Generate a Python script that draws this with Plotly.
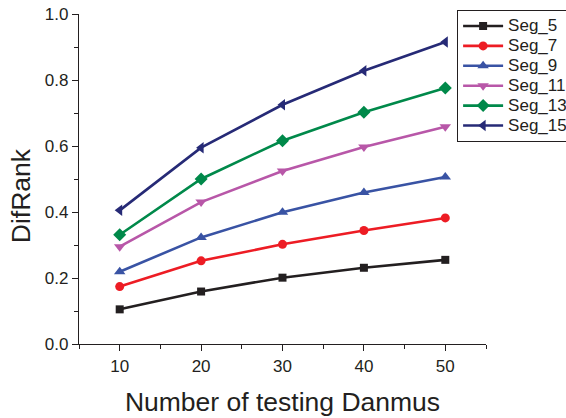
import plotly.graph_objects as go

x_vals = [10, 20, 30, 40, 50]
series_names = ["Seg_5", "Seg_7", "Seg_9", "Seg_11", "Seg_13", "Seg_15"]
seg_5 = [0.105, 0.159, 0.201, 0.231, 0.255]
seg_7 = [0.174, 0.252, 0.302, 0.344, 0.382]
seg_9 = [0.219, 0.323, 0.399, 0.459, 0.506]
seg_11 = [0.295, 0.430, 0.524, 0.597, 0.658]
seg_13 = [0.331, 0.500, 0.616, 0.702, 0.776]
seg_15 = [0.405, 0.595, 0.725, 0.828, 0.915]
series_values = [seg_5, seg_7, seg_9, seg_11, seg_13, seg_15]

colors = ["#231f20", "#ed1c24", "#3953a4", "#b857a8", "#00894a", "#262a76"]
symbols = ["square", "circle", "triangle-up", "triangle-down", "diamond", "triangle-left"]
sizes = [8, 9, 10, 10, 10, 10]

fig = go.Figure()
for name, vals, c, s, sz in zip(series_names, series_values, colors, symbols, sizes):
    fig.add_trace(go.Scatter(
        x=x_vals, y=vals,
        name='<span style="font-size:17px">' + name + '</span>',
        mode="lines+markers",
        line=dict(color=c, width=2.6),
        marker=dict(symbol=s, size=sz, color=c, line=dict(width=0)),
    ))

font_family = "Liberation Sans, Arial, sans-serif"
text_color = "#231f20"

fig.update_layout(
    width=566, height=418,
    margin=dict(l=79, r=80, t=14, b=74, autoexpand=False),
    plot_bgcolor="white", paper_bgcolor="white",
    font=dict(family=font_family, color=text_color, size=17),
    legend=dict(
        x=0.929, y=1.012, xanchor="left", yanchor="top",
        bordercolor="#231f20", borderwidth=1,
        font=dict(size=13, family=font_family, color=text_color),
        bgcolor="white", tracegroupgap=0, itemwidth=40,
    ),
    xaxis=dict(
        range=[5, 55], tickvals=[10, 20, 30, 40, 50],
        showgrid=False, zeroline=False, showline=True,
        linecolor="#231f20", linewidth=1.2,
        ticks="outside", ticklen=6, tickwidth=1.2, tickcolor="#231f20",
        minor=dict(tickvals=[5, 15, 25, 35, 45, 55], ticks="outside", ticklen=4, tickwidth=1, tickcolor="#231f20"),
        tickfont=dict(size=17),
        title=dict(text="Number of testing Danmus", font=dict(size=26.5), standoff=17),
    ),
    yaxis=dict(
        range=[0, 1.0], tickvals=[0, 0.2, 0.4, 0.6, 0.8, 1.0],
        tickformat=".1f",
        showgrid=False, zeroline=False, showline=True,
        linecolor="#231f20", linewidth=1.2,
        ticks="outside", ticklen=6, tickwidth=1.2, tickcolor="#231f20",
        minor=dict(tickvals=[0.1, 0.3, 0.5, 0.7, 0.9], ticks="outside", ticklen=4, tickwidth=1, tickcolor="#231f20"),
        tickfont=dict(size=17),
    ),
    annotations=[dict(
        text="DifRank", textangle=-90, showarrow=False,
        xref="paper", yref="paper", x=-0.1425, y=0.448,
        xanchor="center", yanchor="middle",
        font=dict(size=26.5, family=font_family, color=text_color),
    )],
)

fig.write_html("out.html")
